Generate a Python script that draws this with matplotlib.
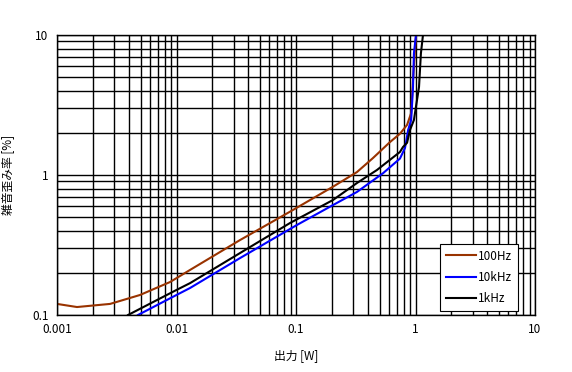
import matplotlib
matplotlib.use("Agg")
import matplotlib.pyplot as plt
from matplotlib.ticker import LogLocator, NullFormatter

plt.rcParams['font.family'] = ['Noto Sans CJK JP', 'DejaVu Sans']

# 100Hz
x_100 = [0.001, 0.00147, 0.00278, 0.00495, 0.00883, 0.013, 0.034, 0.0891, 0.204, 0.324,
         0.44, 0.612, 0.741, 0.85, 0.92, 0.953, 1.01]
y_100 = [0.12, 0.114, 0.12, 0.139, 0.172, 0.21, 0.343, 0.547, 0.825, 1.05,
         1.32, 1.72, 1.97, 2.28, 2.77, 4.77, 10.0]
# 10kHz
x_10k = [0.00476, 0.01, 0.013, 0.034, 0.102, 0.204, 0.324, 0.535, 0.741, 0.817,
         0.868, 0.92, 0.953, 0.97, 1.01]
y_10k = [0.1, 0.139, 0.156, 0.255, 0.44, 0.61, 0.757, 1.03, 1.31, 1.56,
         2.1, 2.47, 4.25, 7.4, 10.0]
# 1kHz
x_1k = [0.00393, 0.01, 0.013, 0.034, 0.0891, 0.204, 0.324, 0.476, 0.741, 0.786,
        0.85, 0.90, 0.97, 1.07, 1.11, 1.155]
y_1k = [0.1, 0.151, 0.169, 0.277, 0.454, 0.663, 0.877, 1.086, 1.46, 1.585,
        1.70, 2.1, 2.47, 4.25, 7.4, 10.0]

xticks = [0.001, 0.01, 0.1, 1, 10]
xtick_labels = ["0.001", "0.01", "0.1", "1", "10"]
yticks = [0.1, 1, 10]
ytick_labels = ["0.1", "1", "10"]

fig = plt.figure(figsize=(5.72, 3.72), dpi=100)
ax = fig.add_axes([57/572, 1-315/372, (535-57)/572, (315-35)/372])

ax.plot(x_100, y_100, color="#993300", lw=1.5, label="100Hz")
ax.plot(x_10k, y_10k, color="#0000FF", lw=1.5, label="10kHz")
ax.plot(x_1k, y_1k, color="black", lw=1.5, label="1kHz")

ax.set_xscale("log")
ax.set_yscale("log")
ax.set_xlim(0.001, 10)
ax.set_ylim(0.1, 10)

ax.set_xticks(xticks)
ax.set_xticklabels(xtick_labels)
ax.set_yticks(yticks)
ax.set_yticklabels(ytick_labels)
ax.xaxis.set_minor_locator(LogLocator(base=10, subs=range(2, 10)))
ax.yaxis.set_minor_locator(LogLocator(base=10, subs=range(2, 10)))
ax.xaxis.set_minor_formatter(NullFormatter())
ax.yaxis.set_minor_formatter(NullFormatter())

ax.grid(True, which="both", color="black", lw=1.0)
ax.set_axisbelow(True)
ax.tick_params(which="both", length=0, labelsize=8.5, pad=6)
for s in ax.spines.values():
    s.set_color("black")
    s.set_linewidth(1.0)

ax.set_xlabel("出力 [W]", fontsize=8.5, labelpad=9)
ax.set_ylabel("雑音歪み率 [%]", fontsize=8.5, labelpad=12)

leg = ax.legend(loc="lower right", bbox_to_anchor=(518/572, 1-311/372), bbox_transform=fig.transFigure,
                fontsize=8.5, frameon=True, fancybox=False, framealpha=1.0,
                edgecolor="black", handlelength=2.5, handletextpad=0.2,
                borderpad=0.5, labelspacing=0.7, borderaxespad=0)
leg.get_frame().set_linewidth(0.8)

fig.savefig("out.png", dpi=100)
